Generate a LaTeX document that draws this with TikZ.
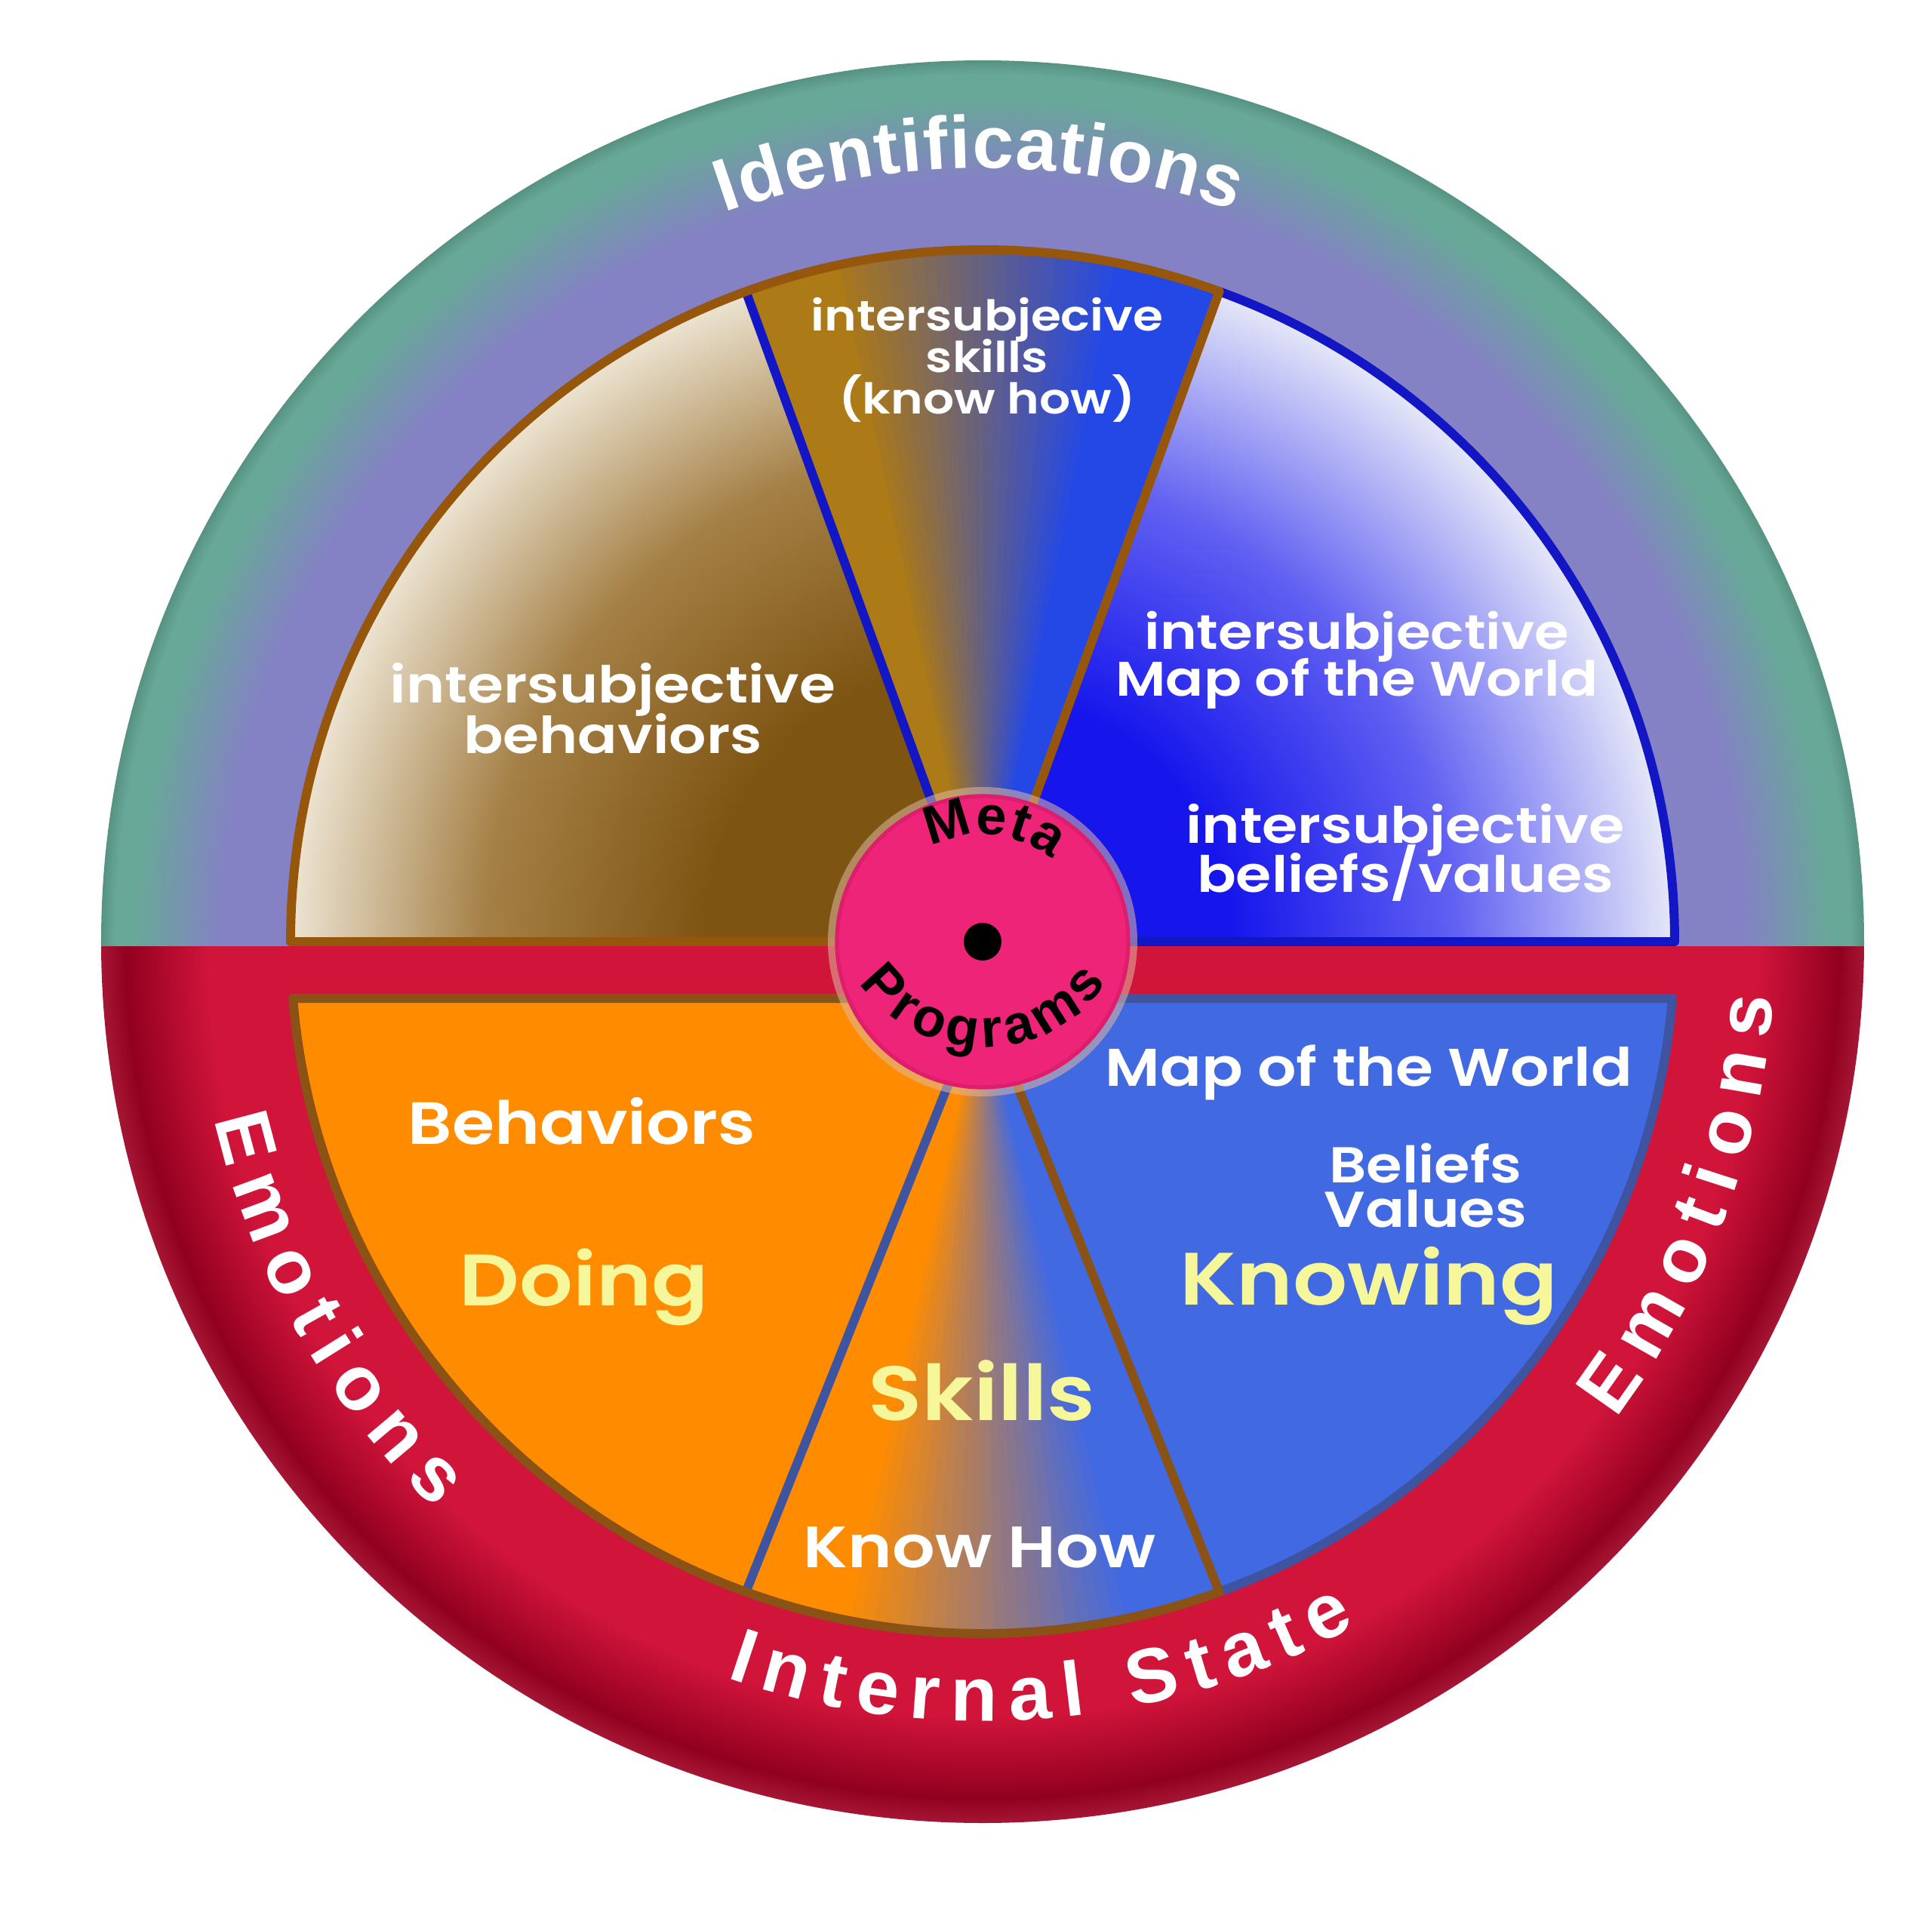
\documentclass[tikz,border=0pt]{standalone}
\usepackage{fontspec}
\setmainfont{Liberation Sans}
\newfontfamily\curvefont{Liberation Sans}
\newfontfamily\erafont{Poppins SemiBold}[FakeStretch=1.15]
\usetikzlibrary{decorations.text}
\newcommand\tightlines{\lineskiplimit=-50pt\relax}

\definecolor{ringteal}{RGB}{104,168,152}
\definecolor{ringtealdk}{RGB}{86,146,130}
\definecolor{ringlav}{RGB}{132,130,196}
\definecolor{ringred}{RGB}{208,20,58}
\definecolor{ringdark}{RGB}{146,0,32}
\definecolor{ringedge}{RGB}{165,22,52}
\definecolor{tanlight}{RGB}{236,228,210}
\definecolor{tanmid}{RGB}{165,128,70}
\definecolor{tandark}{RGB}{126,84,18}
\definecolor{bluedeep}{RGB}{22,22,236}
\definecolor{bluemid}{RGB}{96,96,242}
\definecolor{bluelight}{RGB}{230,232,248}
\definecolor{wedgegold}{RGB}{172,122,22}
\definecolor{wedgeblue}{RGB}{36,72,230}
\definecolor{doorange}{RGB}{255,140,0}
\definecolor{knowblue}{RGB}{65,105,225}
\definecolor{edgebrown}{RGB}{150,86,12}
\definecolor{edgebrowndk}{RGB}{138,82,20}
\definecolor{edgeblue}{RGB}{18,22,196}
\definecolor{edgeslate}{RGB}{62,84,160}
\definecolor{metapink}{RGB}{238,36,120}
\definecolor{metaedge}{RGB}{222,30,108}
\definecolor{metahalo}{RGB}{222,184,160}
\definecolor{paleyellow}{RGB}{246,246,154}

\pgfdeclareradialshading{topring}{\pgfpoint{0bp}{0bp}}{color(0bp)=(ringlav); color(21.6bp)=(ringlav); color(24bp)=(ringteal); color(24.6bp)=(ringteal); color(25bp)=(ringtealdk); color(50bp)=(ringtealdk)}
\pgfdeclareradialshading{bottomring}{\pgfpoint{0bp}{0bp}}{color(0bp)=(ringred); color(22bp)=(ringred); color(24.3bp)=(ringdark); color(25bp)=(ringedge); color(50bp)=(ringedge)}
\pgfdeclareradialshading{behavfade}{\pgfpoint{0bp}{0bp}}{color(0bp)=(tandark); color(10bp)=(tandark); color(18bp)=(tanmid); color(25bp)=(tanlight); color(50bp)=(tanlight)}
\pgfdeclareradialshading{worldfade}{\pgfpoint{0bp}{0bp}}{color(0bp)=(bluedeep); color(9bp)=(bluedeep); color(17bp)=(bluemid); color(25bp)=(bluelight); color(50bp)=(bluelight)}

\begin{document}
\begin{tikzpicture}[
  lbl/.style={text=white, align=center, inner sep=0pt, execute at begin node=\tightlines},
  big/.style={text=paleyellow, inner sep=0pt},
  rim/.style={line width=3.4pt, line join=round}]
\useasboundingbox (-13.02,-12.77) rectangle (12.58,12.48);
\fill[white] (-13.02,-12.77) rectangle (12.58,12.48);

\begin{scope}
\clip (-12,-0.06) rectangle (12,12);
\shade[shading=topring] (0,0) circle (11.68);
\end{scope}
\begin{scope}
\clip (-12,-0.06) rectangle (12,-12);
\shade[shading=bottomring] (0,0) circle (11.68);
\end{scope}

\begin{scope}
\clip (0,0) -- (180:9.17) arc[start angle=180, end angle=110, radius=9.17] -- cycle;
\shade[shading=behavfade] (0,0) circle (9.17);
\end{scope}
\begin{scope}
\clip (0,0) -- (70:9.17) arc[start angle=70, end angle=0, radius=9.17] -- cycle;
\shade[shading=worldfade] (0,0) circle (9.17);
\end{scope}
\foreach \a in {70,...,109}{
  \pgfmathtruncatemacro\p{max(0,min(100,(\a-78)*100/24))}
  \filldraw[line width=0.6pt, color=wedgegold!\p!wedgeblue] (0,0) -- (\a:9.17) arc[start angle=\a, end angle=\a+1, radius=9.17] -- cycle;
}

\fill[doorange] (0,-0.75) -- (184.7:9.17) arc[start angle=184.7, end angle=250, radius=9.17] -- cycle;
\fill[knowblue] (0,-0.75) -- (290:9.17) arc[start angle=290, end angle=355.3, radius=9.17] -- cycle;
\foreach \a in {250,...,289}{
  \pgfmathtruncatemacro\p{max(0,min(100,(282-\a)*100/24))}
  \filldraw[line width=0.6pt, color=doorange!\p!knowblue] (0,-0.75) -- (\a:9.17) arc[start angle=\a, end angle=\a+1, radius=9.17] -- cycle;
}

\draw[rim, edgeblue] (0,0) -- (110:9.17);
\draw[rim, edgeblue] (70:9.17) arc[start angle=70, end angle=0, radius=9.17] -- (0,0);
\draw[rim, edgebrown] (0,0) -- (180:9.17) arc[start angle=180, end angle=110, radius=9.17];
\draw[rim, edgebrown] (110:9.17) arc[start angle=110, end angle=70, radius=9.17] -- (0,0);
\draw[rim, edgeslate] (0,-0.75) -- (250:9.17);
\draw[rim, edgeslate] (290:9.17) arc[start angle=290, end angle=355.3, radius=9.17] -- (0,-0.75);
\draw[rim, edgebrowndk] (0,-0.75) -- (184.7:9.17) arc[start angle=184.7, end angle=250, radius=9.17];
\draw[rim, edgebrowndk] (250:9.17) arc[start angle=250, end angle=290, radius=9.17] -- (0,-0.75);

\fill[metahalo, opacity=0.55] (0,0) circle (2.05);
\node[circle, fill=metapink, draw=metaedge, line width=1.5pt, minimum size=3.86cm, inner sep=0pt] (meta) at (0,0) {};
\node[circle, fill=black, minimum size=0.5cm, inner sep=0pt] (dot) at (meta.center) {};

\path[decorate, decoration={text along path, text color=black, text align={fit to path},
  text={|\curvefont\bfseries\fontsize{20.5}{20.5}\selectfont|Meta}}]
  (119:1.42) arc[start angle=119, end angle=50, radius=1.42];
\path[decorate, decoration={text along path, text color=black, text align={fit to path},
  text={|\curvefont\bfseries\fontsize{20.5}{20.5}\selectfont|Programs}}]
  (-1.638,-0.547) arc[start angle=215, end angle=325, radius=2.0];

\path[decorate, decoration={text along path, text color=white, text align={fit to path},
  text={|\curvefont\bfseries\fontsize{28}{28}\selectfont|Identifications}}]
  (109.5:10.25) arc[start angle=109.5, end angle=71, radius=10.25];
\path[decorate, decoration={text along path, text color=white, text align={fit to path},
  text={|\curvefont\bfseries\fontsize{29}{29}\selectfont|Internal State}}]
  (250.8:10.33) arc[start angle=250.8, end angle=298.6, radius=10.33];
\path[decorate, decoration={text along path, text color=white, text align={fit to path},
  text={|\curvefont\bfseries\fontsize{29}{29}\selectfont|Emotions}}]
  (193:10.45) arc[start angle=193, end angle=226, radius=10.45];
\path[decorate, decoration={text along path, text color=white, text align={fit to path},
  text={|\curvefont\bfseries\fontsize{29}{29}\selectfont|Emotions}}]
  (323:10.5) arc[start angle=323, end angle=356, radius=10.5];

\node[lbl, font=\erafont\fontsize{19.2}{19}\selectfont] (tlbehav) at (-4.90,3.09) {intersubjective\\behaviors};
\node[lbl, font=\erafont\fontsize{16}{15.6}\selectfont] (tmskill) at (0.06,7.71) {intersubjecive\\skills\\(know how)};
\node[lbl, font=\erafont\fontsize{18.3}{17.6}\selectfont] (trmap) at (4.96,3.73) {intersubjective\\Map of the World};
\node[lbl, font=\erafont\fontsize{18.9}{18.5}\selectfont] (trbelief) at (5.60,1.18) {intersubjective\\beliefs/values};
\node[lbl, font=\erafont\fontsize{22.5}{22}\selectfont] (blbehav) at (-5.31,-2.38) {Behaviors};
\node[big, font=\erafont\fontsize{27.5}{27}\selectfont] (doing) at (-5.28,-4.58) {Doing};
\node[big, font=\erafont\fontsize{29}{29}\selectfont] (skills) at (-0.01,-5.95) {Skills};
\node[lbl, font=\erafont\fontsize{22}{22}\selectfont] (knowhow) at (-0.04,-8.03) {Know How};
\node[lbl, font=\erafont\fontsize{20}{20}\selectfont] (brmap) at (5.12,-1.73) {Map of the World};
\node[lbl, font=\erafont\fontsize{19}{17}\selectfont] (brbelief) at (5.87,-3.23) {Beliefs\\Values};
\node[big, font=\erafont\fontsize{28}{28}\selectfont] (knowing) at (5.12,-4.56) {Knowing};
\end{tikzpicture}
\end{document}
